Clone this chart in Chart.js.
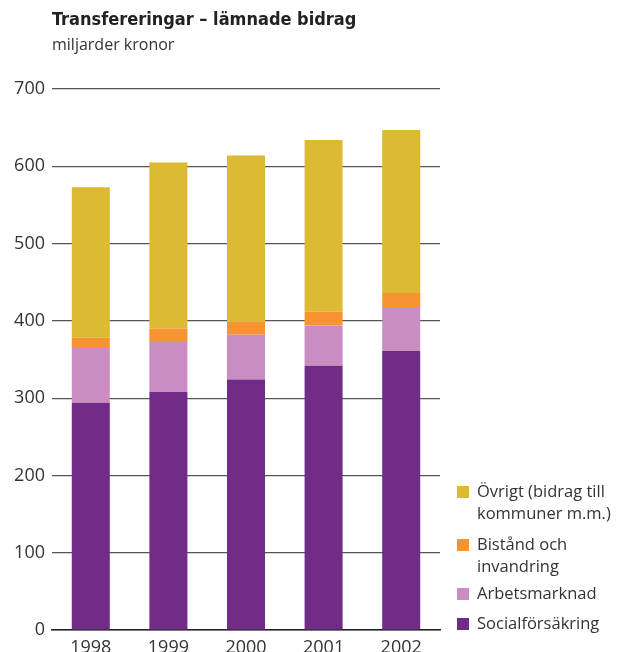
<!DOCTYPE html>
<html>
<head>
<meta charset="utf-8">
<script src="https://cdn.jsdelivr.net/npm/chart.js@4.4.1/dist/chart.umd.min.js"></script>
<style>
  html, body { margin: 0; padding: 0; background: #fff; }
  #wrap { position: relative; width: 618px; height: 652px; }
  #title { position: absolute; left: 52px; top: 8px; font: bold 18px "DejaVu Sans Condensed", "DejaVu Sans", sans-serif; font-stretch: condensed; color: #222; }
  #subtitle { position: absolute; left: 52px; top: 33px; font: 16px "Open Sans", sans-serif; color: #333; }
  canvas { position: absolute; left: 0; top: 0; }
</style>
</head>
<body>
<div id="wrap">
  <canvas id="chart" width="618" height="652"></canvas>
  <div id="title">Transfereringar – lämnade bidrag</div>
  <div id="subtitle">miljarder kronor</div>
</div>
<script>
const years = ['1998', '1999', '2000', '2001', '2002'];
const socialforsakring = [294, 308, 324, 342, 361];
const arbetsmarknad = [71, 66, 58, 52, 57];
const bistand = [13, 16, 17, 18, 18];
const ovrigt = [195, 215, 215, 222, 211];
const yTicks = [0, 100, 200, 300, 400, 500, 600, 700];

// legend drawn at the right, top item first
const legendItems = [
    { lines: ['Övrigt (bidrag till', 'kommuner m.m.)'], color: '#dcba33', y: 492 },
    { lines: ['Bistånd och', 'invandring'], color: '#f79431', y: 545 },
    { lines: ['Arbetsmarknad'], color: '#c98dc1', y: 594 },
    { lines: ['Socialförsäkring'], color: '#702c87', y: 624 },
];

const sideLegend = {
    id: 'sideLegend',
    afterDraw(chart) {
        const ctx = chart.ctx;
        ctx.save();
        ctx.font = '16.5px "Open Sans", sans-serif';
        ctx.textBaseline = 'middle';
        legendItems.forEach((item) => {
            ctx.fillStyle = item.color;
            ctx.fillRect(457, item.y - 6, 12, 12);
            ctx.fillStyle = '#333';
            item.lines.forEach((line, i) => {
                ctx.fillText(line, 477, item.y + i * 22);
            });
        });
        ctx.restore();
    },
};

const ctx = document.getElementById('chart').getContext('2d');
new Chart(ctx, {
    type: 'bar',
    data: {
        labels: years,
        datasets: [
            { label: 'Socialförsäkring', data: socialforsakring, backgroundColor: '#702c87' },
            { label: 'Arbetsmarknad', data: arbetsmarknad, backgroundColor: '#c98dc1' },
            { label: 'Bistånd och invandring', data: bistand, backgroundColor: '#f79431' },
            { label: 'Övrigt (bidrag till kommuner m.m.)', data: ovrigt, backgroundColor: '#dcba33' },
        ],
    },
    options: {
        responsive: false,
        animation: false,
        layout: { padding: { top: 89, right: 178, left: 0, bottom: 0 } },
        plugins: { legend: { display: false }, tooltip: { enabled: false } },
        datasets: { bar: { categoryPercentage: 1, barPercentage: 0.49 } },
        scales: {
            x: {
                stacked: true,
                grid: { display: false },
                border: { display: true, color: '#222', width: 1.5 },
                ticks: { color: '#333', font: { family: 'Open Sans', size: 18 }, padding: -1 },
                afterFit(scale) { scale.height = 22; },
            },
            y: {
                stacked: true,
                min: 0,
                max: 700,
                afterBuildTicks(scale) { scale.ticks = yTicks.map((v) => ({ value: v })); },
                grid: { color: '#555', lineWidth: 1.2, drawTicks: false },
                border: { display: false },
                ticks: { color: '#333', font: { family: 'Open Sans', size: 18 }, padding: 7 },
                afterFit(scale) { scale.width = 52; },
            },
        },
    },
    plugins: [sideLegend],
});
</script>
</body>
</html>
